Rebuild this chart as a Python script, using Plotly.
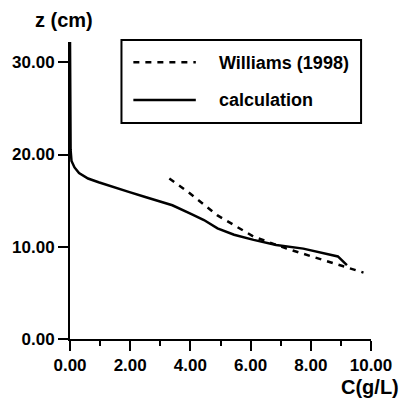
import plotly.graph_objects as go

# Data
calc_c = [0.0, 0.02, 0.05, 0.15, 0.3, 0.6, 0.95, 1.5, 1.95, 2.5, 2.95, 3.4, 4.0, 4.45, 4.9, 5.45, 6.1, 6.85, 7.75, 8.4, 8.9, 9.2]
calc_z = [32.2, 20.5, 19.3, 18.6, 18.0, 17.4, 17.0, 16.4, 15.95, 15.4, 14.95, 14.5, 13.6, 12.9, 12.0, 11.3, 10.75, 10.2, 9.8, 9.3, 8.95, 8.0]
will_c = [3.3, 3.9, 4.9, 5.45, 6.1, 7.2, 8.2, 9.0, 9.75]
will_z = [17.4, 16.0, 13.4, 12.35, 11.1, 9.8, 8.75, 7.95, 7.2]
x_ticks = [0, 2, 4, 6, 8, 10]
y_ticks = [0, 10, 20, 30]
legend_names = ["Williams (1998)", "calculation"]

FONT = "Liberation Sans, Arial, sans-serif"

fig = go.Figure()
fig.add_trace(go.Scatter(x=will_c, y=will_z, mode="lines", name=legend_names[0],
                         line=dict(color="black", width=2.5, dash="6px,6px"), showlegend=False))
fig.add_trace(go.Scatter(x=calc_c, y=calc_z, mode="lines", name=legend_names[1],
                         line=dict(color="black", width=2.5), showlegend=False))

fig.update_layout(
    width=404, height=402,
    margin=dict(l=68, r=32, t=42, b=63),
    paper_bgcolor="white", plot_bgcolor="white",
    font=dict(family=FONT, color="black", size=17, weight="bold"),
    xaxis=dict(range=[0, 10], tickvals=x_ticks, tickformat=".2f", showgrid=False, zeroline=False,
               showline=True, linecolor="black", linewidth=2, ticks="outside", ticklen=10,
               tickwidth=2, tickcolor="black",
               minor=dict(dtick=1, ticks="outside", ticklen=5, tickwidth=2, tickcolor="black"),
               tickfont=dict(size=17, family=FONT, weight="bold")),
    yaxis=dict(range=[0, 32.2], tickvals=y_ticks, tickformat=".2f", showgrid=False, zeroline=False,
               showline=True, linecolor="black", linewidth=2, ticks="outside", ticklen=10,
               tickwidth=2, tickcolor="black",
               tickfont=dict(size=17, family=FONT, weight="bold")),
)

# manual legend
fig.add_shape(type="rect", xref="paper", yref="paper", x0=0.171, x1=0.967, y0=0.727, y1=1.007,
              line=dict(color="black", width=2), fillcolor="white", layer="above")
fig.add_shape(type="line", xref="paper", yref="paper", x0=0.2105, x1=0.418, y0=0.932, y1=0.932,
              line=dict(color="black", width=2.5, dash="6px,6px"))
fig.add_shape(type="line", xref="paper", yref="paper", x0=0.2105, x1=0.418, y0=0.805, y1=0.805,
              line=dict(color="black", width=2.5))
fig.add_annotation(text=legend_names[0], xref="paper", yref="paper", x=0.49, y=0.929,
                   xanchor="left", yanchor="middle", showarrow=False,
                   font=dict(size=18, family=FONT, weight="bold"))
fig.add_annotation(text=legend_names[1], xref="paper", yref="paper", x=0.49, y=0.805,
                   xanchor="left", yanchor="middle", showarrow=False,
                   font=dict(size=18, family=FONT, weight="bold"))

# axis titles
fig.add_annotation(text="z (cm)", xref="paper", yref="paper", x=-0.02, y=1.074,
                   xanchor="center", yanchor="middle", showarrow=False,
                   font=dict(size=20, family=FONT, weight="bold"))
fig.add_annotation(text="C(g/L)", xref="paper", yref="paper", x=0.997, y=-0.162,
                   xanchor="center", yanchor="middle", showarrow=False,
                   font=dict(size=20, family=FONT, weight="bold"))

fig.write_html("out.html")
